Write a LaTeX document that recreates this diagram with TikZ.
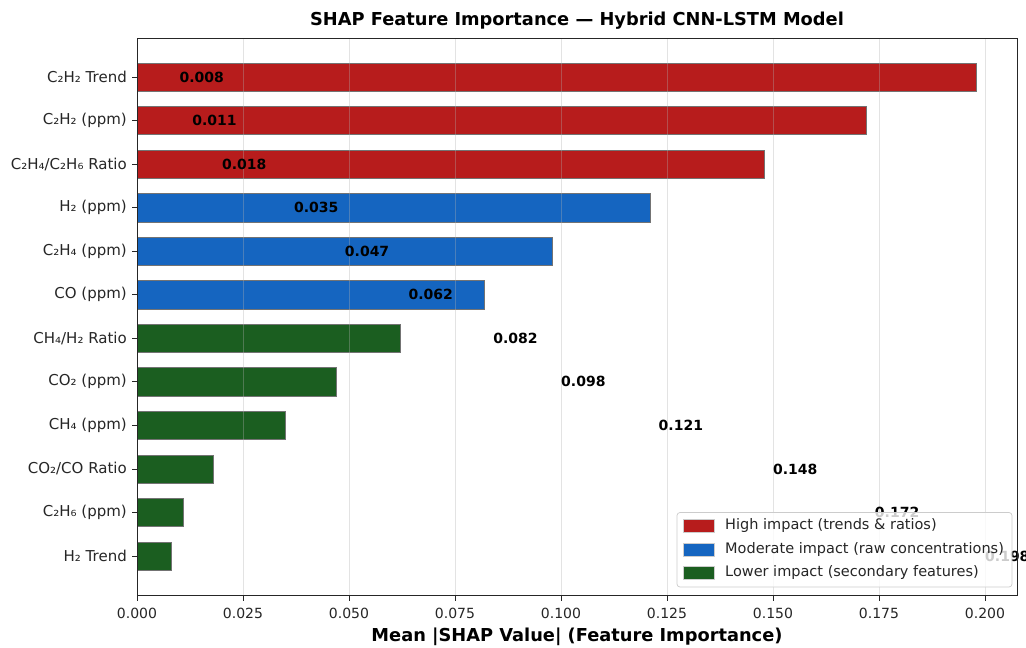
\documentclass[tikz,border=0pt]{standalone}
\usepackage{fontspec}
\setmainfont{DejaVu Sans}
\definecolor{highred}{HTML}{B71C1C}
\definecolor{modblue}{HTML}{1565C0}
\definecolor{lowgreen}{HTML}{1B5E20}
\definecolor{gridgray}{HTML}{B0B0B0}
\tikzset{
  barbox/.style={draw=black!55, line width=0.5pt},
  ticklbl/.style={inner sep=0pt, font=\fontsize{14}{16}\selectfont, text=black!85},
  featlbl/.style={inner sep=0pt, anchor=east, font=\fontsize{15}{17}\selectfont, text=black!85},
  leglbl/.style={inner sep=0pt, anchor=west, font=\fontsize{14.5}{17}\selectfont, text=black!85},
  vallbl/.style={inner sep=0pt, anchor=west, font=\fontsize{14}{16}\selectfont\bfseries},
  axtitle/.style={inner sep=0pt, font=\fontsize{17.8}{20}\selectfont\bfseries},
  gridline/.style={draw=gridgray, opacity=0.35, line width=0.8pt},
  tickmark/.style={draw=black!85, line width=0.8pt},
  legpatch/.style={draw=white!80!black, line width=0.4pt},
}
\begin{document}
\begin{tikzpicture}[x=1pt,y=-1pt]
\useasboundingbox (0,0) rectangle (1026,648);
\fill[white] (0,0) rectangle (1026,648);
% bars: row / value / colour / feature name
\foreach \i/\v/\c/\lab in {
  0/0.198/highred/{C₂H₂ Trend},
  1/0.172/highred/{C₂H₂ (ppm)},
  2/0.148/highred/{C₂H₄/C₂H₆ Ratio},
  3/0.121/modblue/{H₂ (ppm)},
  4/0.098/modblue/{C₂H₄ (ppm)},
  5/0.082/modblue/{CO (ppm)},
  6/0.062/lowgreen/{CH₄/H₂ Ratio},
  7/0.047/lowgreen/{CO₂ (ppm)},
  8/0.035/lowgreen/{CH₄ (ppm)},
  9/0.018/lowgreen/{CO₂/CO Ratio},
  10/0.011/lowgreen/{C₂H₆ (ppm)},
  11/0.008/lowgreen/{H₂ Trend}} {
  \pgfmathsetmacro\yc{77+\i*43.55}
  \pgfmathsetmacro\xe{137+\v*4240}
  \fill[\c] (137,\yc-14.15) rectangle (\xe,\yc+14.15);
  \draw[barbox] (137,\yc-14.15) rectangle (\xe,\yc+14.15);
  \draw[tickmark] (132,\yc) -- (137,\yc);
  \node[featlbl] (ylab\i) at (127,\yc) {\lab};
}
% vertical grid
\foreach \k in {1,...,8} {
  \pgfmathsetmacro\xg{137+\k*106}
  \draw[gridline] (\xg,38) -- (\xg,595);
}
% value annotations (listed in ascending order down the rows)
\foreach \i/\v in {0/0.008,1/0.011,2/0.018,3/0.035,4/0.047,5/0.062,
                   6/0.082,7/0.098,8/0.121,9/0.148,10/0.172,11/0.198} {
  \pgfmathsetmacro\yc{77+\i*43.55}
  \pgfmathsetmacro\xv{137+(\v+0.002)*4240}
  \node[vallbl] (val\i) at (\xv,\yc) {\v};
}
% axes frame
\draw[black!85, line width=1pt] (137,38) rectangle (1017,595);
% x ticks
\foreach \k/\t in {0/0.000,1/0.025,2/0.050,3/0.075,4/0.100,5/0.125,6/0.150,7/0.175,8/0.200} {
  \pgfmathsetmacro\xg{137+\k*106}
  \draw[tickmark] (\xg,595) -- (\xg,600.5);
  \node[ticklbl, anchor=north] (xt\k) at (\xg,607.5) {\t};
}
% titles
\node[axtitle] (title) at (577,21) {SHAP Feature Importance — Hybrid CNN-LSTM Model};
\node[axtitle] (xlabel) at (577,637) {Mean |SHAP Value| (Feature Importance)};
% legend
\fill[white, opacity=0.8, rounded corners=3pt] (677,512.5) rectangle (1012,587);
\draw[black!20, line width=0.7pt, rounded corners=3pt] (677,512.5) rectangle (1012,587);
\foreach \j/\c/\t in {0/highred/{High impact (trends \& ratios)},
                      1/modblue/{Moderate impact (raw concentrations)},
                      2/lowgreen/{Lower impact (secondary features)}} {
  \pgfmathsetmacro\yl{525.7+\j*23.5}
  \fill[\c] (683,\yl-6.5) rectangle (714.5,\yl+6.5);
  \draw[legpatch] (683,\yl-6.5) rectangle (714.5,\yl+6.5);
  \node[leglbl] (leg\j) at (725,\yl) {\t};
}
\end{tikzpicture}
\end{document}
